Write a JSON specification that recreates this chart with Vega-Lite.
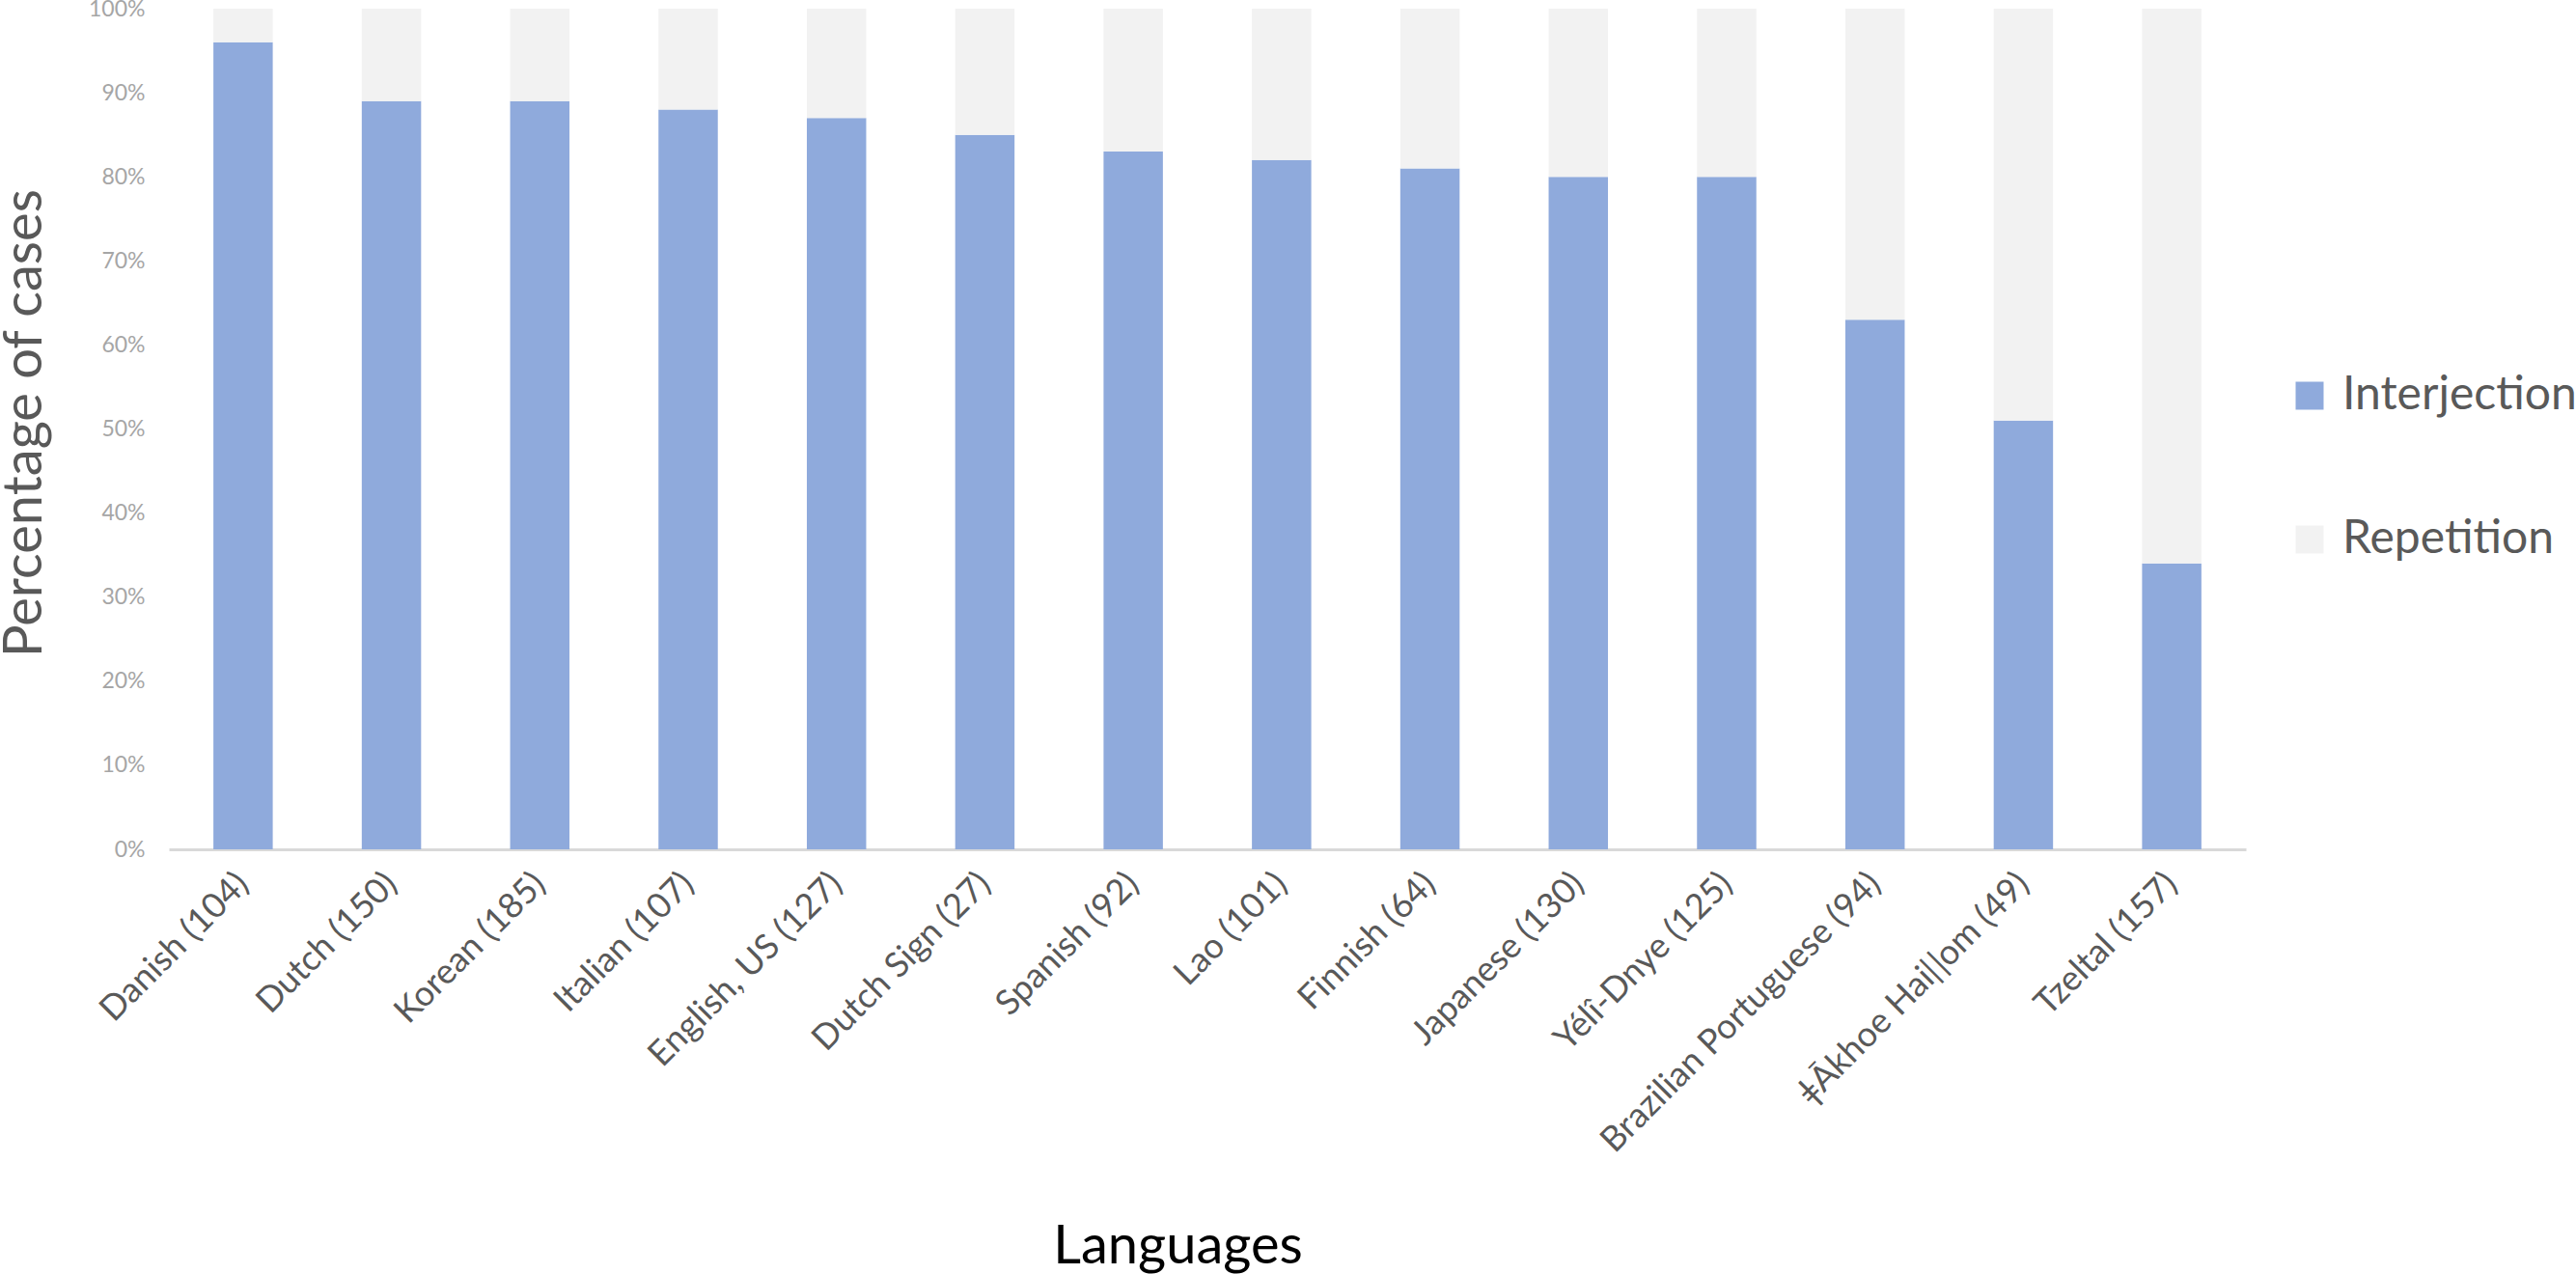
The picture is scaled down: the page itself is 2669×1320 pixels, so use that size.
{
  "$schema": "https://vega.github.io/schema/vega-lite/v6.json",
  "width": 2152,
  "height": 871,
  "autosize": {"type": "none"},
  "padding": {"left": 175, "top": 9, "right": 342, "bottom": 440},
  "background": "#ffffff",
  "config": {
    "font": "Lato",
    "view": {"stroke": null}
  },
  "data": {
    "values": [
      {"language": "Danish (104)", "type": "Interjection", "share": 0.96},
      {"language": "Danish (104)", "type": "Repetition", "share": 0.04},
      {"language": "Dutch (150)", "type": "Interjection", "share": 0.89},
      {"language": "Dutch (150)", "type": "Repetition", "share": 0.11},
      {"language": "Korean (185)", "type": "Interjection", "share": 0.89},
      {"language": "Korean (185)", "type": "Repetition", "share": 0.11},
      {"language": "Italian (107)", "type": "Interjection", "share": 0.88},
      {"language": "Italian (107)", "type": "Repetition", "share": 0.12},
      {"language": "English, US (127)", "type": "Interjection", "share": 0.87},
      {"language": "English, US (127)", "type": "Repetition", "share": 0.13},
      {"language": "Dutch Sign (27)", "type": "Interjection", "share": 0.85},
      {"language": "Dutch Sign (27)", "type": "Repetition", "share": 0.15},
      {"language": "Spanish (92)", "type": "Interjection", "share": 0.83},
      {"language": "Spanish (92)", "type": "Repetition", "share": 0.17},
      {"language": "Lao (101)", "type": "Interjection", "share": 0.82},
      {"language": "Lao (101)", "type": "Repetition", "share": 0.18},
      {"language": "Finnish (64)", "type": "Interjection", "share": 0.81},
      {"language": "Finnish (64)", "type": "Repetition", "share": 0.19},
      {"language": "Japanese (130)", "type": "Interjection", "share": 0.80},
      {"language": "Japanese (130)", "type": "Repetition", "share": 0.20},
      {"language": "Yélî-Dnye (125)", "type": "Interjection", "share": 0.80},
      {"language": "Yélî-Dnye (125)", "type": "Repetition", "share": 0.20},
      {"language": "Brazilian Portuguese (94)", "type": "Interjection", "share": 0.63},
      {"language": "Brazilian Portuguese (94)", "type": "Repetition", "share": 0.37},
      {"language": "ǂĀkhoe Haiǁom (49)", "type": "Interjection", "share": 0.51},
      {"language": "ǂĀkhoe Haiǁom (49)", "type": "Repetition", "share": 0.49},
      {"language": "Tzeltal (157)", "type": "Interjection", "share": 0.34},
      {"language": "Tzeltal (157)", "type": "Repetition", "share": 0.66}
    ]
  },
  "mark": {"type": "bar"},
  "encoding": {
    "x": {
      "field": "language",
      "type": "nominal",
      "sort": null,
      "scale": {"paddingInner": 0.6, "paddingOuter": 0.3},
      "axis": {
        "title": "Languages",
        "titleFontSize": 56,
        "titleFontWeight": "normal",
        "titleColor": "#000000",
        "titleX": 1045,
        "titleY": 428,
        "titleAlign": "center",
        "titleBaseline": "alphabetic",
        "labelAngle": -45,
        "labelAlign": "right",
        "labelBaseline": "middle",
        "labelFontSize": 36,
        "labelColor": "#595959",
        "labelPadding": 30,
        "labelLimit": 0,
        "labelOverlap": false,
        "ticks": false,
        "domainColor": "#D9D9D9",
        "domainWidth": 3,
        "grid": false
      }
    },
    "y": {
      "field": "share",
      "type": "quantitative",
      "stack": "zero",
      "scale": {"domain": [0, 1], "nice": false},
      "axis": {
        "title": "Percentage of cases",
        "titleFontSize": 56,
        "titleFontWeight": "normal",
        "titleColor": "#595959",
        "titleX": -133,
        "titleY": 429,
        "titleAngle": -90,
        "titleAlign": "center",
        "titleBaseline": "alphabetic",
        "values": [0, 0.1, 0.2, 0.3, 0.4, 0.5, 0.6, 0.7, 0.8, 0.9, 1],
        "format": ".0%",
        "labelFontSize": 23,
        "labelColor": "#A6A6A6",
        "labelPadding": 25,
        "ticks": false,
        "domain": false,
        "grid": false
      }
    },
    "color": {
      "field": "type",
      "type": "nominal",
      "scale": {"domain": ["Interjection", "Repetition"], "range": ["#8FAADC", "#F2F2F2"]},
      "legend": {
        "title": null,
        "orient": "none",
        "legendX": 2194,
        "legendY": 377,
        "padding": 0,
        "symbolType": "square",
        "symbolSize": 841,
        "symbolStrokeWidth": 0,
        "labelFontSize": 48,
        "labelColor": "#595959",
        "labelOffset": 10,
        "rowPadding": 101,
        "labelLimit": 0
      }
    },
    "order": {"field": "type", "sort": "ascending"}
  }
}
